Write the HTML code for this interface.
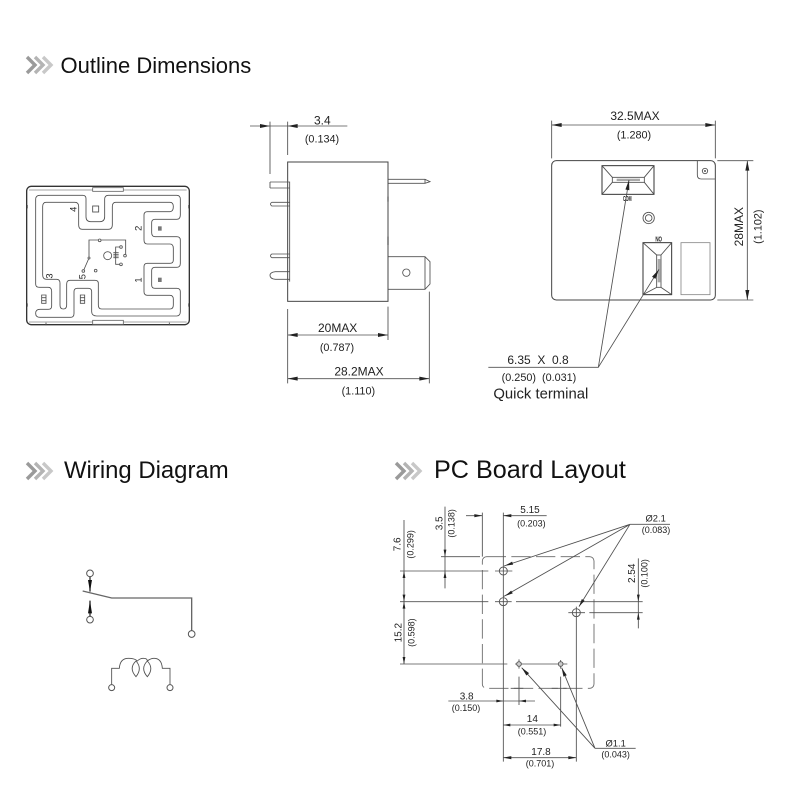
<!DOCTYPE html>
<html><head><meta charset="utf-8"><style>
html,body{margin:0;padding:0;background:#fff}
svg{display:block;filter:blur(.35px)}
text{font-family:"Liberation Sans",sans-serif;fill:#222}
.h{font-size:24px;fill:#111}
.l{fill:none;stroke:#505050;stroke-width:2.6}
.t{font-size:36px;text-anchor:middle}
.s{font-size:30px;text-anchor:middle}
.p{font-size:32.5px;text-anchor:middle}
.q{font-size:27px;text-anchor:middle}
</style></head><body>
<svg width="800" height="800" viewBox="0 0 800 800" xmlns="http://www.w3.org/2000/svg">
<defs>
<polygon id="a" points="0,0 -30,-6 -30,6" fill="#222"/>
<g id="chev" fill="none" stroke-width="3.4">
<path d="M0,0 L8,8 L0,16" stroke="#9a9a9a"/>
<path d="M8,0 L16,8 L8,16" stroke="#b4b4b4"/>
<path d="M16,0 L24,8 L16,16" stroke="#c8c8c8"/>
</g>
</defs>
<rect width="800" height="800" fill="#fff"/>

<use href="#chev" x="27" y="57"/>
<text class="h" x="60.5" y="73" style="font-size:22px">Outline Dimensions</text>
<use href="#chev" x="27" y="463"/>
<text class="h" x="64" y="478" style="font-size:23.9px">Wiring Diagram</text>
<use href="#chev" x="396" y="463"/>
<text class="h" x="434" y="478" style="font-size:25.2px">PC Board Layout</text>

<!-- top view -->
<g transform="translate(0,160) scale(.33333)">
<rect x="80" y="79" width="488" height="415" rx="14" fill="none" stroke="#333" stroke-width="4"/>
<path d="M87,90 H560 M87,486 H560" fill="none" stroke="#888" stroke-width="2"/>
<rect x="278" y="83" width="92" height="11" fill="#fff" stroke="#666" stroke-width="2.5"/>
<rect x="278" y="481" width="92" height="12" fill="#fff" stroke="#666" stroke-width="2.5"/>
<path class="l" d="M82,135V145M82,430V440M566,135V145M566,430V440M138,488V496M508,488V496"/>
<path class="l" d="M120,106 H248 Q258,106 258,116 V170 Q258,185 272,185 H300 Q314,185 314,170 V118 Q314,106 325,106 H530 Q541,106 541,118 V165 Q541,178 530,178 H465 Q455,178 455,188 V218 Q455,230 465,230 H530 Q541,230 541,240 V310 Q541,322 530,322 H465 Q455,322 455,332 V375 Q455,385 465,385 H530 Q541,385 541,395 V455 Q541,468 530,468 H290 Q275,468 275,455 V395 Q275,385 265,385 H232 Q222,385 222,395 V460 Q222,472 212,472 H120 Q107,472 107,460 Q107,448 120,448 H145 Q155,448 155,438 V395 Q155,382 145,382 H118 Q107,382 107,372 V118 Q107,106 120,106 Z"/>
<path class="l" d="M138,127 H225 Q236,127 236,140 V195 Q236,208 247,208 H325 Q337,208 337,195 V140 Q337,127 347,127 H510 Q520,127 520,140 Q520,155 510,155 H442 Q432,155 432,165 V240 Q432,252 442,252 H510 Q520,252 520,265 V300 Q520,310 510,310 H442 Q432,310 432,320 V395 Q432,406 442,406 H510 Q520,406 520,418 V435 Q520,447 510,447 H305 Q295,447 295,435 V370 Q295,361 285,361 H210 Q200,361 200,372 V435 Q200,447 190,447 Q180,447 180,435 V370 Q180,358 170,358 H140 Q128,358 128,345 V140 Q128,127 138,127 Z"/>
<rect x="278" y="138" width="18" height="18" class="l"/>
<path class="l" d="M267,293 V240 H377 V283 M267,294 L250,333 M359,261 H347 V276 M359,313 H347 V298"/>
<path class="l" d="M340,278 h16 M340,283 h16 M340,288 h16 M340,293 h16 M347,275 V298"/>
<g fill="#fff" stroke="#555" stroke-width="2.6">
<circle cx="299" cy="241" r="4"/><circle cx="267" cy="294" r="3"/><circle cx="250" cy="333" r="4"/><circle cx="287" cy="332" r="4"/><circle cx="323" cy="287" r="12"/><circle cx="363" cy="261" r="4"/><circle cx="375" cy="287" r="4"/><circle cx="363" cy="313" r="4"/>
</g>
<rect x="474" y="199" width="11" height="13" fill="#777"/>
<rect x="474" y="353" width="11" height="13" fill="#777"/>
<path class="l" d="M125,405 h13 v25 h-13 z M125,413 h13 M125,422 h13 M241,405 h13 v25 h-13 z M241,413 h13 M241,422 h13"/>
<g style="font-size:28px" text-anchor="middle">
<text transform="translate(230,148) rotate(-90)">4</text>
<text transform="translate(424,205) rotate(-90)">2</text>
<text transform="translate(424,360) rotate(-90)">1</text>
<text transform="translate(157,348) rotate(-90)">3</text>
<text transform="translate(257,350) rotate(-90)">5</text>
</g>
</g>

<!-- side view -->
<g transform="translate(240,100) scale(.33333)">
<rect x="143" y="186" width="301" height="418" fill="none" stroke="#444" stroke-width="3"/>
<path class="l" d="M149,245 V545 M90,246 H149 M90,264 H149 M90,246 V264 M95,307 H149 M95,318 H149 M95,307 Q88,312 95,318 M95,462 H149 M95,473 H149 M95,462 Q88,467 95,473 M106,515 H149 M106,538 H149 M106,515 Q90,517 90,526 Q90,536 106,538 M445,238 H555 L570,245 L555,250 H445 M555,238 V250 M445,470 H555 L570,485 V552 L555,568 H445 M555,470 V568"/>
<circle cx="499" cy="518" r="11" class="l"/>
<path d="M444,290V305M444,410V435" stroke="#222" stroke-width="3"/>
<path class="l" d="M30,78 H322 M90,65 V222 M143,65 V165 M143,627 V850 M444,620 V720 M568,575 V850 M143,705 H444 M143,836 H568"/>
<use href="#a" x="90" y="78"/><use href="#a" transform="translate(143,78) rotate(180)"/>
<use href="#a" transform="translate(143,705) rotate(180)"/><use href="#a" x="444" y="705"/>
<use href="#a" transform="translate(143,836) rotate(180)"/><use href="#a" x="568" y="836"/>
<text class="t" x="247" y="74">3.4</text><text class="p" x="246" y="128">(0.134)</text>
<text class="t" x="293" y="696">20MAX</text><text class="p" x="291" y="753">(0.787)</text>
<text class="t" x="357" y="827">28.2MAX</text><text class="p" x="355" y="883">(1.110)</text>
</g>

<!-- bottom view -->
<g transform="translate(480,100) scale(.33333)">
<rect x="215" y="182" width="491" height="418" rx="14" fill="none" stroke="#444" stroke-width="3"/>
<path class="l" d="M652,182 V225 Q652,237 664,237 H706"/>
<circle cx="675" cy="213" r="8" class="l"/><circle cx="675" cy="213" r="3" fill="#555"/>
<rect x="366" y="197" width="156" height="86" fill="none" stroke="#333" stroke-width="3"/>
<rect x="397" y="232" width="96" height="15" class="l"/>
<rect x="410" y="236" width="70" height="7" fill="#aaa"/>
<path class="l" d="M366,197 L397,232 M522,197 L493,232 M366,283 L397,247 M522,283 L493,247"/>
<circle cx="506" cy="354" r="17" class="l"/><circle cx="506" cy="354" r="10" class="l"/>
<rect x="489" y="428" width="86" height="156" fill="none" stroke="#333" stroke-width="3"/>
<rect x="530" y="465" width="13" height="97" class="l"/>
<rect x="533" y="477" width="8" height="70" fill="#aaa"/>
<path class="l" d="M489,428 L530,465 M575,428 L543,465 M489,584 L530,562 M575,584 L543,562"/>
<rect x="603" y="428" width="87" height="156" fill="none" stroke="#888" stroke-width="2.5"/>
<text x="429" y="303" style="font-size:22px;font-weight:bold" textLength="26" lengthAdjust="spacingAndGlyphs">COM</text>
<text x="526" y="424" style="font-size:22px;font-weight:bold" textLength="20" lengthAdjust="spacingAndGlyphs">NO</text>
<path class="l" d="M215,62 V175 M706,62 V175 M215,75 H706 M712,182 H820 M712,600 H820 M802,182 V600 M25,802 H355 L447,240 M355,802 L537,508"/>
<use href="#a" transform="translate(215,75) rotate(180)"/><use href="#a" x="706" y="75"/>
<use href="#a" transform="translate(802,182) rotate(-90)"/><use href="#a" transform="translate(802,600) rotate(90)"/>
<use href="#a" transform="translate(447,240) rotate(-80.7)"/><use href="#a" transform="translate(537,508) rotate(-58.2)"/>
<text class="t" x="465" y="60">32.5MAX</text><text class="p" x="462" y="116">(1.280)</text>
<text class="t" transform="translate(789,380) rotate(-90)">28MAX</text>
<text class="p" transform="translate(844,380) rotate(-90)">(1.102)</text>
<text class="t" x="82" y="792" style="text-anchor:start;white-space:pre">6.35  X  0.8</text>
<text class="p" x="65" y="843" style="text-anchor:start;white-space:pre">(0.250)  (0.031)</text>
<text x="40" y="895" style="font-size:44.6px">Quick terminal</text>
</g>

<!-- wiring -->
<g transform="translate(60,550) scale(.33333)">
<path d="M68,123 L155,144 H395 V242" fill="none" stroke="#666" stroke-width="4"/>
<path d="M90,80 V125 M90,152 V199" stroke="#333" stroke-width="4"/>
<polygon points="84,90 96,90 90,125" fill="#111"/>
<polygon points="84,190 96,190 90,152" fill="#111"/>
<path class="l" d="M155,403 V355 H178 Q180,325 205,325 Q225,325 232,333 Q240,325 250,325 Q262,325 262,333 Q272,325 282,325 Q305,325 307,355 H330 V403"/>
<path class="l" d="M228,333 Q205,355 228,380 Q248,355 228,333 Z M262,333 Q240,355 262,380 Q283,355 262,333 Z"/>
<g fill="#fff" stroke="#555" stroke-width="3">
<circle cx="90" cy="70" r="10"/><circle cx="90" cy="209" r="10"/><circle cx="395" cy="252" r="10"/><circle cx="155" cy="413" r="9"/><circle cx="330" cy="413" r="9"/>
</g>
</g>

<!-- PCB -->
<g transform="translate(380,500) scale(.33333)">
<rect x="307" y="170" width="335" height="395" rx="13" fill="none" stroke="#666" stroke-width="2.6" stroke-dasharray="58 16"/>
<path class="l" d="M307,38 V170 M370,38 V785 M258,47 H307 M370,47 H500 M183,170 H300 M60,213 H325 M345,213 H397 M60,305 H325 M345,305 H395 M408,305 H788 M565,338 H615 M628,338 H788 M60,492 H382 M405,492 H562 M195,20 V265 M72,60 V492 M775,175 V385 M589,320 V785 M417,478 V506 M417,530 V615 M542,480 V506 M542,530 V680 M205,603 H465 M370,675 H542 M370,773 H589 M750,73 H870 M750,73 L372,198 M750,73 L370,290 M750,73 L597,320 M645,745 H767 M645,745 L425,503 M645,745 L545,503 M392,565 H430 M515,565 H560"/>
<g stroke="#555" stroke-width="2.8">
<circle cx="370" cy="213" r="12" fill="none"/><circle cx="370" cy="305" r="12" fill="none"/><circle cx="589" cy="338" r="12" fill="none"/>
<circle cx="417" cy="492" r="7" fill="#ccc"/><circle cx="542" cy="492" r="7" fill="#ccc"/>
</g>
<use href="#a" transform="translate(307,47) scale(.8)"/><use href="#a" transform="translate(370,47) rotate(180) scale(.8)"/>
<use href="#a" transform="translate(195,170) rotate(90) scale(.7)"/><use href="#a" transform="translate(195,213) rotate(-90) scale(.7)"/>
<use href="#a" transform="translate(72,213) rotate(-90) scale(.7)"/><use href="#a" transform="translate(72,305) rotate(90) scale(.7)"/>
<use href="#a" transform="translate(72,305) rotate(-90) scale(.7)"/><use href="#a" transform="translate(72,492) rotate(90) scale(.7)"/>
<use href="#a" transform="translate(775,305) rotate(90) scale(.7)"/><use href="#a" transform="translate(775,338) rotate(-90) scale(.7)"/>
<use href="#a" transform="translate(370,603) scale(.7)"/><use href="#a" transform="translate(417,603) rotate(180) scale(.7)"/>
<use href="#a" transform="translate(370,675) rotate(180) scale(.7)"/><use href="#a" transform="translate(542,675) scale(.7)"/>
<use href="#a" transform="translate(370,773) rotate(180) scale(.8)"/><use href="#a" transform="translate(589,773) scale(.8)"/>
<use href="#a" transform="translate(375,197) rotate(161.7) scale(.8)"/><use href="#a" transform="translate(375,288) rotate(150.3) scale(.8)"/><use href="#a" transform="translate(597,320) rotate(121.8) scale(.8)"/>
<use href="#a" transform="translate(425,503) rotate(-132.3) scale(.9)"/><use href="#a" transform="translate(545,503) rotate(-112.4) scale(.9)"/>
<text class="s" x="450" y="39">5.15</text><text class="q" x="454" y="79">(0.203)</text>
<text class="s" x="827" y="64" style="font-size:28px">Ø2.1</text><text class="q" x="828" y="99">(0.083)</text>
<text class="s" x="260" y="598">3.8</text><text class="q" x="258" y="633">(0.150)</text>
<text class="s" x="457" y="666">14</text><text class="q" x="456" y="703">(0.551)</text>
<text class="s" x="483" y="765">17.8</text><text class="q" x="480" y="799">(0.701)</text>
<text class="s" x="707" y="739" style="font-size:28px">Ø1.1</text><text class="q" x="707" y="773">(0.043)</text>
<text class="s" transform="translate(187,70) rotate(-90)">3.5</text><text class="q" transform="translate(224,70) rotate(-90)">(0.138)</text>
<text class="s" transform="translate(62,133) rotate(-90)">7.6</text><text class="q" transform="translate(100,133) rotate(-90)">(0.299)</text>
<text class="s" transform="translate(765,220) rotate(-90)">2.54</text><text class="q" transform="translate(803,220) rotate(-90)">(0.100)</text>
<text class="s" transform="translate(65,398) rotate(-90)">15.2</text><text class="q" transform="translate(103,398) rotate(-90)">(0.598)</text>
</svg>
</body></html>
